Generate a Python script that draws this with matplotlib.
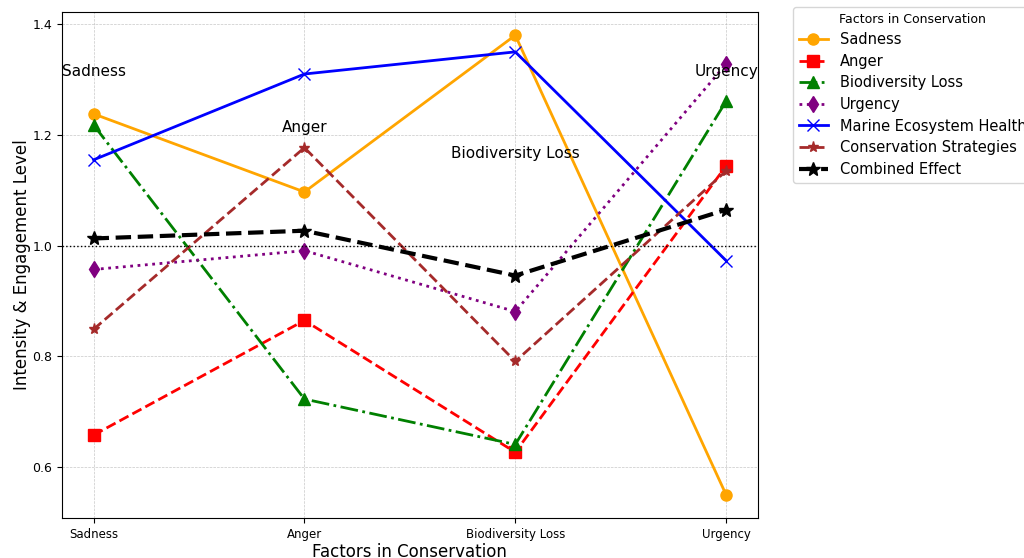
import matplotlib.pyplot as plt

# factors on the x axis
factors = ['Sadness', 'Anger', 'Biodiversity Loss', 'Urgency']

# series values
sadness = [1.238, 1.097, 1.380, 0.550]
anger = [0.658, 0.865, 0.627, 1.144]
biodiversity_loss = [1.218, 0.723, 0.641, 1.261]
urgency = [0.957, 0.991, 0.881, 1.328]
marine_health = [1.155, 1.310, 1.350, 0.973]
conservation = [0.849, 1.177, 0.791, 1.135]
combined = [1.013, 1.027, 0.946, 1.065]

# annotation heights for the factor labels
label_y = [1.315, 1.214, 1.166, 1.315]

x = range(len(factors))

fig, ax = plt.subplots(figsize=(10.24, 5.58), dpi=100)

ax.plot(x, sadness, color='orange', linestyle='-', marker='o', markersize=8, linewidth=2, label='Sadness')
ax.plot(x, anger, color='red', linestyle='--', marker='s', markersize=8, linewidth=2, label='Anger')
ax.plot(x, biodiversity_loss, color='green', linestyle='-.', marker='^', markersize=8, linewidth=2, label='Biodiversity Loss')
ax.plot(x, urgency, color='purple', linestyle=':', marker='d', markersize=8, linewidth=2, label='Urgency')
ax.plot(x, marine_health, color='blue', linestyle='-', marker='x', markersize=8, linewidth=2, label='Marine Ecosystem Health')
ax.plot(x, conservation, color='brown', linestyle='--', marker='*', markersize=8, linewidth=2, label='Conservation Strategies')
ax.plot(x, combined, color='black', linestyle='--', marker='*', markersize=10, linewidth=3, label='Combined Effect')

ax.axhline(1.0, color='black', linestyle=':', linewidth=1)

for i, name in enumerate(factors):
    ax.text(i, label_y[i], name, ha='center', va='center', fontsize=11)

ax.set_xticks(list(x))
ax.set_xticklabels(factors, fontsize=8.5)
ax.tick_params(axis='y', labelsize=9)
ax.set_xlabel('Factors in Conservation', fontsize=12, labelpad=2)
ax.set_ylabel('Intensity & Engagement Level', fontsize=12, labelpad=1)
ax.grid(True, linestyle='--', linewidth=0.5, alpha=0.7)

ax.legend(title='Factors in Conservation', title_fontsize=9, fontsize=10.5,
          labelspacing=0.45, loc='upper left', bbox_to_anchor=(1.04, 1.025))

plt.subplots_adjust(left=0.0605, right=0.740, top=0.978, bottom=0.072)
plt.savefig('out.png')
